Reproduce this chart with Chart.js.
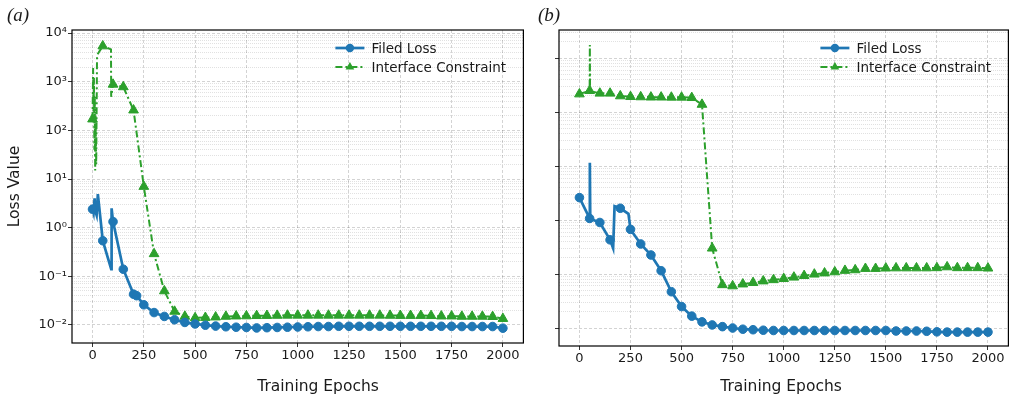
<!DOCTYPE html>
<html>
<head>
<meta charset="utf-8">
<script src="https://cdn.jsdelivr.net/npm/chart.js@4"></script>
<style>
  body { margin: 0; background: #fff; }
  .wrap { position: absolute; top: 0; height: 398px; }
</style>
</head>
<body>
<div class="wrap" style="left:0;width:530px"><canvas id="panelA"></canvas></div>
<div class="wrap" style="left:530px;width:485px"><canvas id="panelB"></canvas></div>
<script>
  // ticks
  const epochTicks = [0, 250, 500, 750, 1000, 1250, 1500, 1750, 2000];
  const decadesA = [1e-2, 1e-1, 1, 10, 100, 1000, 1e4];
  const decadesB = [1e-2, 1e-1, 1, 10, 100, 1000];

  // shared epochs after the early phase (markers every 50)
  const lateEpochs = [250, 300, 350, 400, 450, 500, 550, 600, 650, 700, 750, 800, 850, 900, 950,
    1000, 1050, 1100, 1150, 1200, 1250, 1300, 1350, 1400, 1450, 1500, 1550, 1600, 1650, 1700,
    1750, 1800, 1850, 1900, 1950, 2000];

  // (a) Filed Loss
  const fieldEarlyEpochsA = [0, 5, 10, 15, 20, 26, 50, 91, 93, 100, 150, 200, 215];
  const fieldEarlyA = [2.4, 2.0, 4.0, 2.1, 1.8, 4.9, 0.54, 0.14, 2.5, 1.33, 0.14, 0.043, 0.040];
  const fieldLateA = [0.026, 0.018, 0.015, 0.0128, 0.0113, 0.0105, 0.0099, 0.0095, 0.0092, 0.0090,
    0.0089, 0.0087, 0.0088, 0.0089, 0.0090, 0.0091, 0.0092, 0.0093, 0.0093, 0.0094, 0.0094, 0.0094,
    0.0094, 0.0094, 0.0094, 0.0094, 0.0094, 0.0094, 0.0094, 0.0094, 0.0094, 0.0093, 0.0093, 0.0093,
    0.0093, 0.0086];

  // (a) Interface Constraint
  const ifaceEarlyEpochsA = [0, 3, 5, 7, 9, 11, 13, 15, 18, 22, 50, 90, 91, 100, 150, 200];
  const ifaceEarlyA = [170, 1900, 250, 1200, 40, 500, 15, 200, 20, 3500, 5400, 4600, 490, 880, 780, 260];
  const ifaceLateA = [7.0, 0.29, 0.050, 0.019, 0.0150, 0.0140, 0.0142, 0.0145, 0.0150, 0.0152,
    0.0153, 0.0155, 0.0156, 0.0157, 0.0158, 0.0158, 0.0158, 0.0158, 0.0158, 0.0158, 0.0158, 0.0158,
    0.0158, 0.0158, 0.0157, 0.0156, 0.0156, 0.0156, 0.0155, 0.0152, 0.0152, 0.0150, 0.0150, 0.0150,
    0.0148, 0.0135];

  // (b) Filed Loss
  const fieldEarlyEpochsB = [0, 50, 51, 53, 100, 150, 165, 172, 200, 240];
  const fieldEarlyB = [2.6, 1.07, 11.5, 1.05, 0.90, 0.43, 0.30, 1.8, 1.65, 1.3];
  const fieldLateB = [0.67, 0.36, 0.225, 0.115, 0.047, 0.025, 0.0166, 0.013, 0.0114, 0.0106,
    0.0100, 0.0095, 0.0093, 0.0091, 0.0090, 0.0090, 0.0090, 0.0090, 0.0090, 0.0090, 0.0090, 0.0090,
    0.0090, 0.0090, 0.0090, 0.0090, 0.0088, 0.0088, 0.0088, 0.0087, 0.0085, 0.0084, 0.0084, 0.0084,
    0.0084, 0.0084];

  // (b) Interface Constraint
  const ifaceEarlyEpochsB = [0, 50, 51, 52, 100, 150, 200];
  const ifaceEarlyB = [215, 248, 1740, 245, 222, 222, 198];
  const ifaceLateB = [192, 190, 188, 188, 187, 187, 184, 138, 0.30, 0.063, 0.060, 0.065, 0.069,
    0.074, 0.078, 0.082, 0.087, 0.093, 0.099, 0.104, 0.109, 0.116, 0.119, 0.126, 0.126, 0.128,
    0.129, 0.129, 0.129, 0.129, 0.130, 0.135, 0.130, 0.130, 0.130, 0.128];

  const BLUE = '#1f77b4';
  const GREEN = '#2ca02c';
  const FONT = 'DejaVu Sans';
  const TEXT = '#1a1a1a';

  function toPoints(epochs, values) {
    return epochs.map((e, i) => ({x: e, y: values[i]}));
  }

  function isDecade(v) {
    const l = Math.log10(v);
    return Math.abs(l - Math.round(l)) < 1e-6;
  }

  const SUP = {'-': '\u207B', '0': '\u2070', '1': '\u00B9', '2': '\u00B2', '3': '\u00B3', '4': '\u2074'};
  function powLabel(v) {
    const e = String(Math.round(Math.log10(v)));
    return '10' + e.split('').map(c => SUP[c]).join('');
  }

  function logTicks(decades) {
    const out = [];
    decades.forEach(d => { for (let m = 1; m <= 9; m++) out.push(m * d); });
    return out;
  }

  function markerRadius(r, extra) {
    return ctx => {
      if (!ctx.raw) return 0;
      const x = ctx.raw.x;
      return (x % 50 === 0 || extra.includes(x)) ? r : 0;
    };
  }

  function series(label, points, color, style, extra) {
    const tri = style === 'triangle';
    return {
      label: label,
      data: points,
      borderColor: color,
      backgroundColor: color,
      borderWidth: tri ? 2 : 2.7,
      borderDash: tri ? [7, 3, 2, 3] : [],
      pointStyle: style,
      pointRadius: markerRadius(tri ? 5.6 : 4.3, extra),
      pointBorderWidth: 1,
      pointBackgroundColor: color,
      pointBorderColor: color,
      tension: 0
    };
  }

  // frame, legend, panel letter, x label
  const decor = {
    id: 'decor',
    afterDatasetsDraw(chart, args, opts) {
      const ctx = chart.ctx;
      const a = chart.chartArea;
      ctx.save();
      ctx.strokeStyle = '#000';
      ctx.lineWidth = 1.2;
      ctx.setLineDash([]);
      ctx.strokeRect(a.left, a.top, a.right - a.left, a.bottom - a.top);

      // legend
      chart.data.datasets.forEach((ds, i) => {
        const y = a.top + 18 + i * 19;
        const x0 = a.right - 188, x1 = a.right - 159, xm = (x0 + x1) / 2;
        ctx.strokeStyle = ds.borderColor;
        ctx.fillStyle = ds.borderColor;
        ctx.lineWidth = ds.borderWidth;
        ctx.setLineDash(ds.borderDash);
        ctx.beginPath();
        ctx.moveTo(x0, y);
        ctx.lineTo(x1, y);
        ctx.stroke();
        ctx.setLineDash([]);
        ctx.beginPath();
        if (ds.pointStyle === 'triangle') {
          const r = 5;
          ctx.moveTo(xm, y - r);
          ctx.lineTo(xm + r * 0.866, y + r * 0.5);
          ctx.lineTo(xm - r * 0.866, y + r * 0.5);
          ctx.closePath();
        } else {
          ctx.arc(xm, y, 4.2, 0, Math.PI * 2);
        }
        ctx.fill();
        ctx.fillStyle = TEXT;
        ctx.font = '13.5px "' + FONT + '"';
        ctx.textAlign = 'left';
        ctx.textBaseline = 'middle';
        ctx.fillText(ds.label, a.right - 152, y + 1);
      });

      // panel letter
      ctx.fillStyle = TEXT;
      ctx.font = 'italic 19px "Liberation Serif"';
      ctx.textAlign = 'left';
      ctx.textBaseline = 'middle';
      ctx.fillText(opts.letter, opts.letterX, 16);

      // x axis label
      ctx.font = '15.5px "' + FONT + '"';
      ctx.textAlign = 'center';
      ctx.fillText('Training Epochs', opts.xlabelX, 387);
      ctx.restore();
    }
  };

  function makePanel(id, datasets, cfg) {
    const yTicks = logTicks(cfg.decades).filter(v => v > cfg.yMin && v < cfg.yMax);
    return new Chart(document.getElementById(id), {
      type: 'line',
      data: {datasets: datasets},
      plugins: [decor],
      options: {
        responsive: true,
        maintainAspectRatio: false,
        animation: false,
        events: [],
        layout: {padding: {left: 0, right: cfg.padRight, top: 30, bottom: 0}},
        plugins: {
          legend: {display: false},
          tooltip: {enabled: false},
          decor: {letter: cfg.letter, letterX: cfg.letterX, xlabelX: cfg.xlabelX}
        },
        scales: {
          x: {
            type: 'linear',
            min: -100,
            max: 2100,
            afterBuildTicks: s => { s.ticks = epochTicks.map(v => ({value: v})); },
            afterFit: s => { s.height = cfg.xHeight; },
            ticks: {
              autoSkip: false, maxRotation: 0, padding: 1,
              color: TEXT, font: {family: FONT, size: 13},
              callback: v => String(v)
            },
            grid: {color: 'rgba(0,0,0,0.22)', lineWidth: 0.8, tickColor: '#000', tickLength: 4},
            border: {display: false, dash: [3, 2]}
          },
          y: {
            type: 'logarithmic',
            min: cfg.yMin,
            max: cfg.yMax,
            afterBuildTicks: s => { s.ticks = yTicks.map(v => ({value: v})); },
            afterFit: s => { s.width = cfg.yWidth; },
            ticks: {
              autoSkip: false, padding: 1,
              color: TEXT, font: {family: FONT, size: 13},
              callback: v => (cfg.yLabels && isDecade(v)) ? powLabel(v) : ''
            },
            grid: {
              color: c => (c.tick && isDecade(c.tick.value)) ? 'rgba(0,0,0,0.22)' : 'rgba(0,0,0,0.17)',
              lineWidth: c => (c.tick && isDecade(c.tick.value)) ? 0.8 : 0.7,
              tickColor: c => (c.tick && isDecade(c.tick.value)) ? '#000' : 'rgba(0,0,0,0)',
              tickLength: 4
            },
            border: {
              display: false,
              dash: c => (c.tick && isDecade(c.tick.value)) ? [3, 2] : [1, 1]
            },
            title: {
              display: cfg.yTitle,
              text: 'Loss Value',
              color: TEXT,
              font: {family: FONT, size: 15.5},
              padding: {top: 6, bottom: 0}
            }
          }
        }
      }
    });
  }

  makePanel('panelA', [
    series('Filed Loss', toPoints(fieldEarlyEpochsA.concat(lateEpochs), fieldEarlyA.concat(fieldLateA)), BLUE, 'circle', [215]),
    series('Interface Constraint', toPoints(ifaceEarlyEpochsA.concat(lateEpochs), ifaceEarlyA.concat(ifaceLateA)), GREEN, 'triangle', [])
  ], {
    decades: decadesA, yMin: Math.pow(10, -2.37), yMax: Math.pow(10, 4.062),
    yWidth: 72, xHeight: 55, padRight: 4, yLabels: true, yTitle: true,
    letter: '(a)', letterX: 7, xlabelX: 318
  });

  makePanel('panelB', [
    series('Filed Loss', toPoints(fieldEarlyEpochsB.concat(lateEpochs), fieldEarlyB.concat(fieldLateB)), BLUE, 'circle', []),
    series('Interface Constraint', toPoints(ifaceEarlyEpochsB.concat(lateEpochs), ifaceEarlyB.concat(ifaceLateB)), GREEN, 'triangle', [])
  ], {
    decades: decadesB, yMin: Math.pow(10, -2.333), yMax: Math.pow(10, 3.519),
    yWidth: 29, xHeight: 52, padRight: 3, yLabels: false, yTitle: false,
    letter: '(b)', letterX: 8, xlabelX: 251
  });
</script>
</body>
</html>
